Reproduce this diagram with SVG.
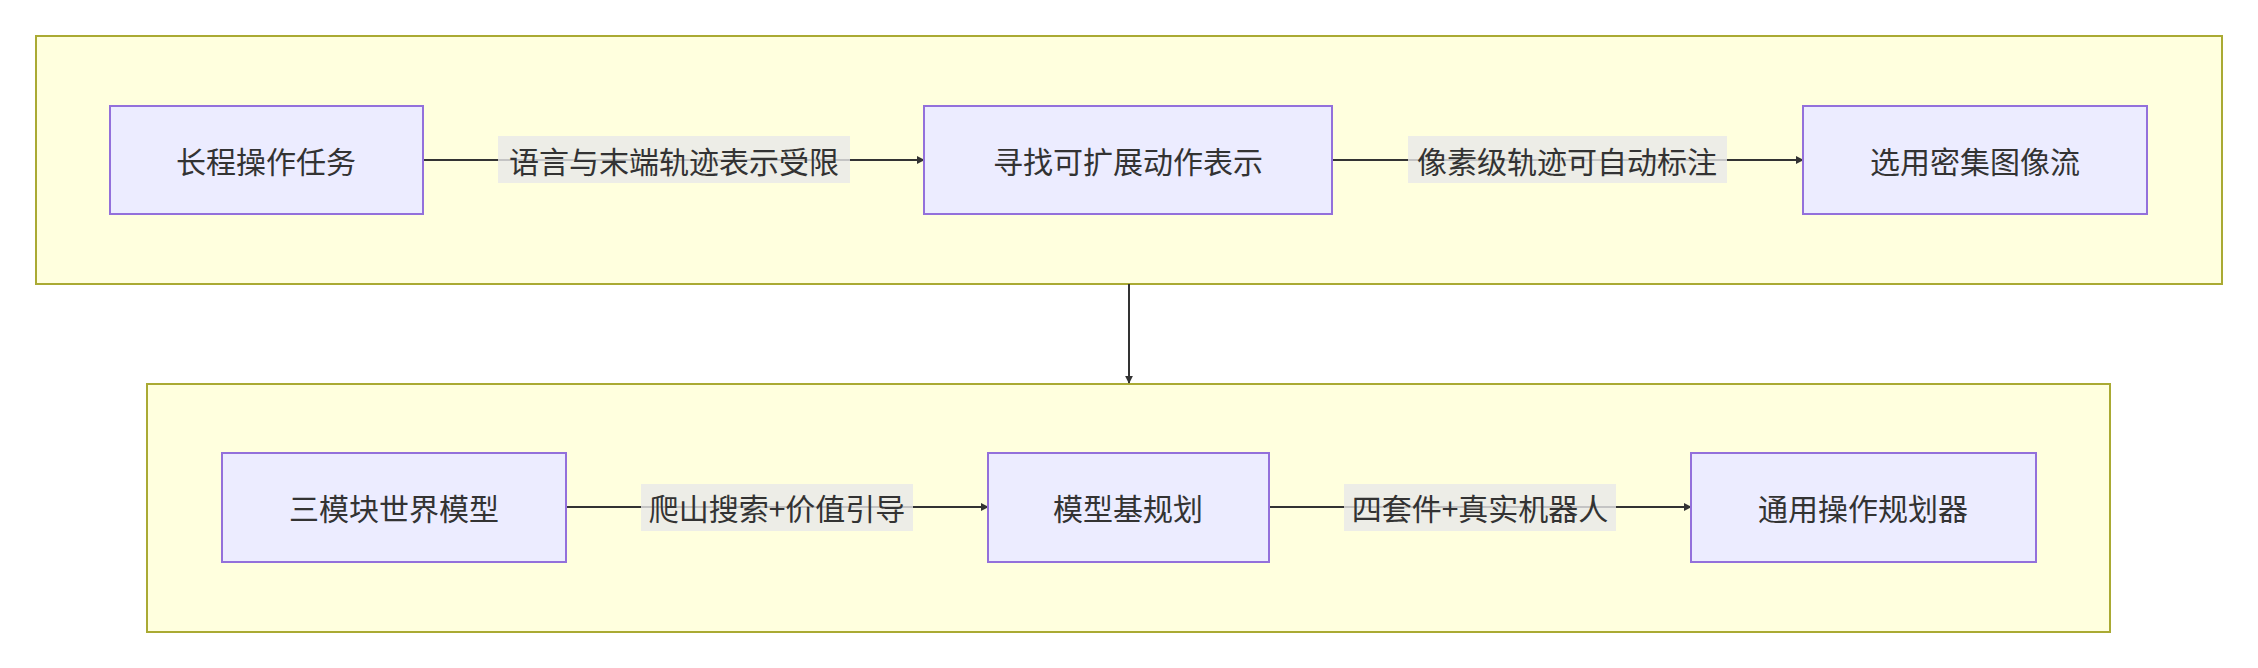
<svg xmlns="http://www.w3.org/2000/svg" width="2258" height="668" viewBox="0 0 2258 668">
<style>
.c{fill:#ffffde;stroke:#aaaa33;stroke-width:2}
.n{fill:#ececff;stroke:#9370db;stroke-width:2}
.t{font-family:"Noto Sans CJK SC",sans-serif;font-size:30px;fill:#333;text-anchor:middle;dominant-baseline:central}
.lb{fill:#e8e8e8;opacity:0.8}
.e{stroke:#333;stroke-width:2;fill:none;marker-end:url(#a)}
</style>
<defs><marker id="a" viewBox="0 0 10 10" refX="9" refY="5" markerWidth="8" markerHeight="8" markerUnits="userSpaceOnUse" orient="auto"><path d="M0,0L10,5L0,10z" fill="#333"/></marker></defs>
<rect width="2258" height="668" fill="#fff"/>
<g id="cluster1"><rect class="c" x="36" y="36" width="2186" height="248"/></g>
<g id="cluster2"><rect class="c" x="147" y="384" width="1963" height="248"/></g>
<g id="edges">
<path class="e" d="M423,160H924"/>
<path class="e" d="M1332,160H1803"/>
<path class="e" d="M1129,284V383"/>
<path class="e" d="M566,507H988"/>
<path class="e" d="M1269,507H1691"/>
<rect class="lb" x="498" y="136" width="352" height="47"/><text class="t" x="674" y="160">语言与末端轨迹表示受限</text>
<rect class="lb" x="1408" y="136" width="319" height="47"/><text class="t" x="1567" y="160">像素级轨迹可自动标注</text>
<rect class="lb" x="641" y="484" width="272" height="47"/><text class="t" x="777" y="507">爬山搜索+价值引导</text>
<rect class="lb" x="1344" y="484" width="272" height="47"/><text class="t" x="1480" y="507">四套件+真实机器人</text>
</g>
<g id="n1"><rect class="n" x="110" y="106" width="313" height="108"/><text class="t" x="266" y="160">长程操作任务</text></g>
<g id="n2"><rect class="n" x="924" y="106" width="408" height="108"/><text class="t" x="1128" y="160">寻找可扩展动作表示</text></g>
<g id="n3"><rect class="n" x="1803" y="106" width="344" height="108"/><text class="t" x="1975" y="160">选用密集图像流</text></g>
<g id="n4"><rect class="n" x="222" y="453" width="344" height="109"/><text class="t" x="394" y="507">三模块世界模型</text></g>
<g id="n5"><rect class="n" x="988" y="453" width="281" height="109"/><text class="t" x="1128" y="507">模型基规划</text></g>
<g id="n6"><rect class="n" x="1691" y="453" width="345" height="109"/><text class="t" x="1863" y="507">通用操作规划器</text></g>
</svg>
